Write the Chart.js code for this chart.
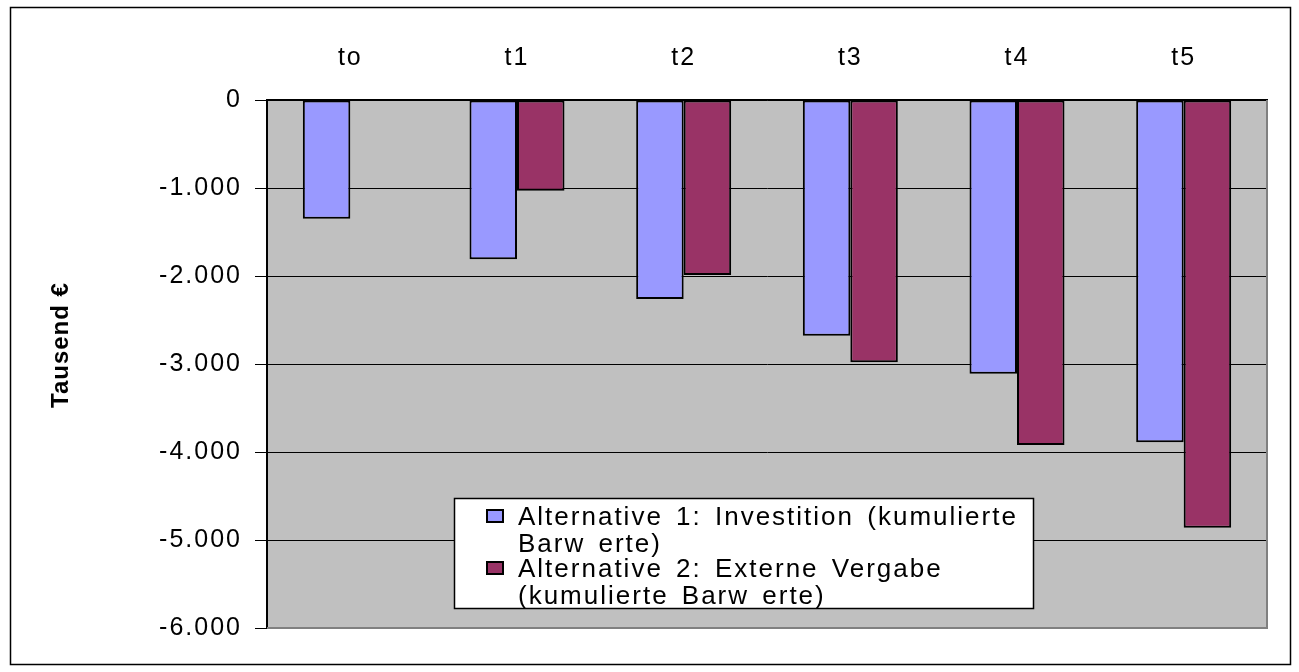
<!DOCTYPE html>
<html>
<head>
<meta charset="utf-8">
<script src="https://cdn.jsdelivr.net/npm/chart.js@4.4.0/dist/chart.umd.min.js"></script>
<style>
  html, body { margin: 0; padding: 0; background: #fff; }
  #wrap { width: 1299px; height: 672px; }
</style>
</head>
<body>
<div id="wrap"><canvas id="c" width="1299" height="672"></canvas></div>
<script>
// Periods and cumulative present values (Tausend €)
const categories = ['to', 't1', 't2', 't3', 't4', 't5'];
const alt1Values = [-1350, -1810, -2260, -2680, -3110, -3890];
const alt2Values = [null, -1030, -1990, -2980, -3920, -4860];
const seriesLegend = [
  ['Alternative 1: Investition (kumulierte', 'Barw erte)'],
  ['Alternative 2: Externe Vergabe', '(kumulierte Barw erte)']
];
const seriesColors = ['#9999FF', '#993366'];
const yTickValues = [0, -1000, -2000, -3000, -4000, -5000, -6000];
const yTickLabels = ['0', '-1.000', '-2.000', '-3.000', '-4.000', '-5.000', '-6.000'];
const yTitle = 'Tausend €';

const FONT = '"Liberation Sans", Arial, sans-serif';

// Wide glyph spacing for all axis text
const spacingPlugin = {
  id: 'spacing',
  beforeUpdate(chart) { chart.ctx.letterSpacing = '2px'; }
};

// Grey plot background
const plotBg = {
  id: 'plotBg',
  beforeDraw(chart) {
    const { ctx, chartArea: a } = chart;
    ctx.save();
    ctx.fillStyle = '#C0C0C0';
    ctx.fillRect(a.left, a.top, a.right - a.left, a.bottom - a.top);
    ctx.restore();
  }
};

// Frame, axis title and boxed legend
const decorations = {
  id: 'decorations',
  afterDraw(chart) {
    const { ctx, chartArea: a } = chart;
    ctx.save();
    // plot frame (right and bottom)
    ctx.strokeStyle = '#808080';
    ctx.lineWidth = 2;
    ctx.beginPath();
    ctx.moveTo(a.right, a.top);
    ctx.lineTo(a.right, a.bottom);
    ctx.lineTo(a.left, a.bottom);
    ctx.stroke();

    // outer chart border
    ctx.strokeStyle = '#000';
    ctx.lineWidth = 1.5;
    ctx.strokeRect(10.5, 7.5, 1280, 657);

    // y-axis title
    ctx.save();
    ctx.translate(68, 345);
    ctx.rotate(-Math.PI / 2);
    ctx.font = 'bold 24px ' + FONT;
    ctx.letterSpacing = '1px';
    ctx.fillStyle = '#000';
    ctx.textAlign = 'center';
    ctx.textBaseline = 'alphabetic';
    ctx.fillText(yTitle, 0, 0);
    ctx.restore();

    // legend box
    const lx = 454, ly = 498, lw = 579, lh = 110;
    ctx.fillStyle = '#fff';
    ctx.fillRect(lx, ly, lw, lh);
    ctx.strokeStyle = '#000';
    ctx.lineWidth = 1.5;
    ctx.strokeRect(lx + 0.5, ly + 0.5, lw, lh);

    ctx.font = '26px ' + FONT;
    ctx.letterSpacing = '2px';
    ctx.wordSpacing = '4px';
    ctx.textAlign = 'left';
    ctx.textBaseline = 'alphabetic';
    const baselines = [[525, 552], [577, 604]];
    const swatchY = [510, 562];
    seriesLegend.forEach((lines, i) => {
      ctx.fillStyle = seriesColors[i];
      ctx.fillRect(487, swatchY[i], 16, 12);
      ctx.strokeStyle = '#000';
      ctx.lineWidth = 2;
      ctx.strokeRect(487, swatchY[i], 16, 12);
      ctx.fillStyle = '#000';
      lines.forEach((t, j) => ctx.fillText(t, 518, baselines[i][j]));
    });
    ctx.restore();
  }
};

new Chart(document.getElementById('c'), {
  type: 'bar',
  data: {
    labels: categories,
    datasets: [
      {
        label: seriesLegend[0].join(' '),
        data: alt1Values,
        backgroundColor: seriesColors[0],
        borderColor: '#000',
        borderWidth: 2,
        borderSkipped: false
      },
      {
        label: seriesLegend[1].join(' '),
        data: alt2Values,
        backgroundColor: seriesColors[1],
        borderColor: '#000',
        borderWidth: 2,
        borderSkipped: false
      }
    ]
  },
  options: {
    responsive: false,
    animation: false,
    devicePixelRatio: 1,
    layout: { padding: { left: 10, right: 32, top: 0, bottom: 44 } },
    datasets: { bar: { barPercentage: 1.0, categoryPercentage: 0.57 } },
    plugins: { legend: { display: false }, tooltip: { enabled: false } },
    scales: {
      x: {
        position: 'top',
        grid: { display: false, drawTicks: false },
        border: { display: true, color: '#000', width: 1.5 },
        ticks: { color: '#000', font: { family: FONT, size: 25 }, padding: 27, maxRotation: 0 },
        afterFit(scale) { scale.height = 100; }
      },
      y: {
        min: -6000,
        max: 0,
        grid: { color: '#000', lineWidth: 1, tickLength: 12, tickColor: '#000', drawTicks: true },
        border: { display: true, color: '#000', width: 2 },
        ticks: {
          stepSize: 1000,
          color: '#000',
          padding: 13,
          font: { family: FONT, size: 25 },
          callback(v) {
            const i = yTickValues.indexOf(v);
            return i >= 0 ? yTickLabels[i] : '';
          }
        },
        afterFit(scale) { scale.width = 257; }
      }
    }
  },
  plugins: [spacingPlugin, plotBg, decorations]
});
</script>
</body>
</html>
